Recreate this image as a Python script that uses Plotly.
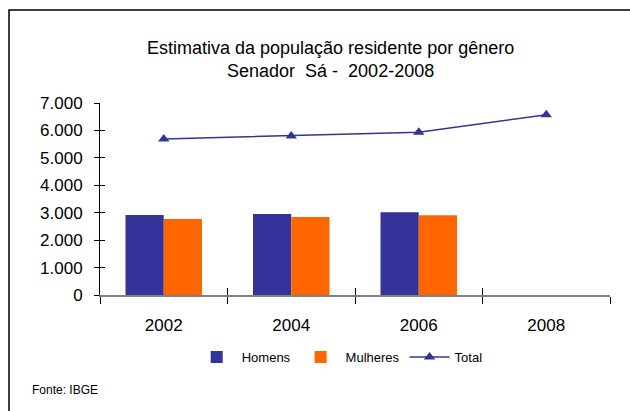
import plotly.graph_objects as go

years = ["2002", "2004", "2006", "2008"]
homens = [2920, 2950, 3020, None]
mulheres = [2770, 2840, 2910, None]
total = [5690, 5800, 5930, 6570]

title_lines = ["Estimativa da população residente por gênero", "Senador  Sá -  2002-2008"]
source = "Fonte: IBGE"

BLUE = "#333399"
ORANGE = "#FF6600"
FONT = "Liberation Sans, Arial, sans-serif"

fig = go.Figure()
fig.add_trace(go.Bar(name="Homens", x=years, y=homens, marker=dict(color=BLUE, line=dict(width=0))))
fig.add_trace(go.Bar(name="Mulheres", x=years, y=mulheres, marker=dict(color=ORANGE, line=dict(width=0))))
fig.add_trace(go.Scatter(name="Total", x=years, y=total, mode="lines+markers",
                         line=dict(color=BLUE, width=1.5),
                         marker=dict(symbol="triangle-up", size=10, color=BLUE)))
# invisible trace to carry overlay axes (inner half of crossing ticks)
fig.add_trace(go.Scatter(x=years, y=[None] * 4, xaxis="x2", yaxis="y2",
                         showlegend=False, hoverinfo="skip", mode="markers"))

fig.update_layout(
    width=630, height=411,
    margin=dict(l=100, r=20, t=103, b=116),
    paper_bgcolor="white", plot_bgcolor="white",
    separators=",.",
    barmode="group", bargap=0.4, bargroupgap=0,
    font=dict(family=FONT, color="black"),
    showlegend=True,
    legend=dict(orientation="h", x=0.47, xanchor="center", y=-0.323, yanchor="middle",
                font=dict(size=13), traceorder="normal", itemwidth=40, tracegroupgap=0),
    xaxis=dict(type="category", categoryorder="array", categoryarray=years,
               showline=True, linecolor="#808080", linewidth=2,
               ticks="outside", tickson="boundaries", ticklen=7, tickcolor="black", tickwidth=1,
               showgrid=False, tickfont=dict(size=17), ticklabelstandoff=14,
               zeroline=False),
    xaxis2=dict(type="category", categoryorder="array", categoryarray=years,
                overlaying="x", matches="x", showline=False,
                ticks="inside", tickson="boundaries", ticklen=7, tickcolor="black", tickwidth=1,
                showticklabels=False, showgrid=False, zeroline=False, side="bottom"),
    yaxis=dict(range=[0, 7000], dtick=1000, tickformat=",d",
               showline=True, linecolor="black", linewidth=1,
               ticks="outside", ticklen=5, tickcolor="black", tickwidth=1,
               showgrid=False, zeroline=False, tickfont=dict(size=17), ticklabelstandoff=8),
    yaxis2=dict(range=[0, 7000], dtick=1000, overlaying="y", matches="y",
                showline=False, ticks="inside", ticklen=5, tickcolor="black", tickwidth=1,
                showticklabels=False, showgrid=False, zeroline=False),
)

fig.add_annotation(text="<br>".join(title_lines), xref="paper", yref="paper",
                   x=0.451, y=1.224, xanchor="center", yanchor="middle",
                   showarrow=False, font=dict(size=18, color="black"))
fig.add_annotation(text=source, xref="paper", yref="paper",
                   x=-0.137, y=-0.495, xanchor="left", yanchor="middle",
                   showarrow=False, font=dict(size=12, color="black"))

# outer frame (right and bottom edges fall outside the image)
fig.add_shape(type="rect", xref="paper", yref="paper",
              x0=(9 - 100) / 510, x1=(660 - 100) / 510,
              y0=(295 - 440) / 192, y1=(295 - 10) / 192,
              line=dict(color="black", width=1.5), fillcolor="rgba(0,0,0,0)", layer="above")

fig.write_html("out.html", config={"displayModeBar": False},
               post_script="document.body.style.margin='0';")
